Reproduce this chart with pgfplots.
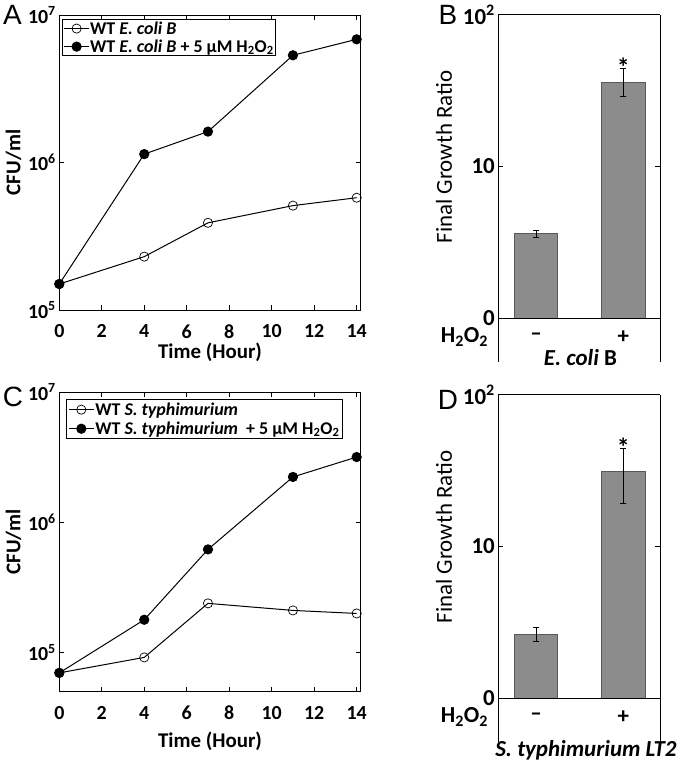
\documentclass[border=0pt]{standalone}
\usepackage{fontspec}
\setmainfont{Carlito}
\newfontfamily\letterfont{Liberation Sans}
\usepackage{pgfplots}
\pgfplotsset{compat=1.18}
\begin{document}
\begin{tikzpicture}
\useasboundingbox (0,0) rectangle (677bp,-771bp);
% Panel A
\begin{axis}[at={(59.3bp,-310bp)}, anchor=south west,
    scale only axis, width=301.4bp, height=295bp, clip=false,
    xmin=0, xmax=14.19, ymode=log, ymin=1e5, ymax=1e7,
    xtick={0,2,4,6,8,10,12,14}, xticklabels={0,2,4,6,8,\raisebox{-3bp}{10},12,14},
    ytick={1e5,1e6,1e7},
    yticklabels={10\textsuperscript{5},10\textsuperscript{6},10\textsuperscript{7}},
    yminorticks=false,
    tick align=inside, major tick length=5bp,
    axis line style={line width=0.9bp}, tick style={line width=0.9bp, black},
    xticklabel style={font=\fontsize{20}{24}\selectfont\bfseries, yshift=-11bp},
    yticklabel style={font=\fontsize{20}{24}\selectfont\bfseries},
    xlabel={Time (Hour)},
    xlabel style={font=\fontsize{21}{25}\selectfont\bfseries, at={(rel axis cs:0.5,0)}, anchor=center, yshift=-42bp},
    legend style={at={(rel axis cs:0.008,0.986)}, anchor=north west, draw=black, line width=0.8bp,
      font=\fontsize{18}{20}\selectfont\bfseries, inner sep=1.5bp, row sep=3bp, nodes={inner sep=0.5bp}},
    legend cell align=left,
    legend image code/.code={\draw[mark repeat=2,mark phase=2,#1] plot coordinates {(0bp,0bp) (12.5bp,0bp) (25bp,0bp)};}]
\addplot[black, line width=1bp, mark=o, mark size=4.6bp, mark options={fill=white, line width=0.7bp}]
  coordinates {(0,1.5e5) (4,2.3e5) (7,3.9e5) (11,5.1e5) (14,5.77e5)};
\addplot[black, line width=1bp, mark=*, mark size=4.6bp]
  coordinates {(0,1.5e5) (4,1.14e6) (7,1.62e6) (11,5.33e6) (14,6.84e6)};
\legend{WT \textit{E. coli B}, WT \textit{E. coli B} + 5 µM H\textsubscript{2}O\textsubscript{2}}
\node[font=\fontsize{21}{25}\selectfont\bfseries, rotate=90] at (rel axis cs:-0.152,0.5) {CFU/ml};
\end{axis}
% Panel C
\begin{axis}[at={(59.3bp,-691.7bp)}, anchor=south west,
    scale only axis, width=301.4bp, height=299.7bp, clip=false,
    xmin=0, xmax=14.19, ymode=log, ymin=5.02e4, ymax=1e7,
    xtick={0,2,4,6,8,10,12,14}, xticklabels={0,2,4,6,8,\raisebox{-3bp}{10},12,14},
    ytick={1e5,1e6,1e7},
    yticklabels={10\textsuperscript{5},10\textsuperscript{6},10\textsuperscript{7}},
    yminorticks=false,
    tick align=inside, major tick length=5bp,
    axis line style={line width=0.9bp}, tick style={line width=0.9bp, black},
    xticklabel style={font=\fontsize{20}{24}\selectfont\bfseries, yshift=-11bp},
    yticklabel style={font=\fontsize{20}{24}\selectfont\bfseries},
    xlabel={Time (Hour)},
    xlabel style={font=\fontsize{21}{25}\selectfont\bfseries, at={(rel axis cs:0.5,0)}, anchor=center, yshift=-50bp},
    legend style={at={(rel axis cs:0.022,0.976)}, anchor=north west, draw=black, line width=0.8bp,
      font=\fontsize{18}{20}\selectfont\bfseries, inner sep=2bp, row sep=3bp, nodes={inner sep=1bp}},
    legend cell align=left,
    legend image code/.code={\draw[mark repeat=2,mark phase=2,#1] plot coordinates {(0bp,0bp) (12.5bp,0bp) (25bp,0bp)};}]
\addplot[black, line width=1bp, mark=o, mark size=4.6bp, mark options={fill=white, line width=0.7bp}]
  coordinates {(0,7.0e4) (4,9.2e4) (7,2.39e5) (11,2.11e5) (14,2.0e5)};
\addplot[black, line width=1bp, mark=*, mark size=4.6bp]
  coordinates {(0,7.0e4) (4,1.79e5) (7,6.2e5) (11,2.23e6) (14,3.17e6)};
\legend{WT \textit{S. typhimurium}, WT \textit{S. typhimurium}\ \ + 5 µM H\textsubscript{2}O\textsubscript{2}}
\node[font=\fontsize{21}{25}\selectfont\bfseries, rotate=90] at (rel axis cs:-0.152,0.5) {CFU/ml};
\end{axis}
% Panel B
\begin{axis}[at={(498.3bp,-361.7bp)}, anchor=south west,
    scale only axis, width=161.7bp, height=347bp,
    ymode=log, ymin=0.518, ymax=100, xmin=-0.432, xmax=1.42,
    axis x line*=top, axis y line*=box, x axis line style={-}, y axis line style={-},
    axis line style={line width=0.9bp},
    xtick=\empty, ytick={1,10,100}, yticklabels={0,10,10\textsuperscript{2}},
    yminorticks=false, tick align=inside, major tick length=5bp,
    tick style={line width=0.9bp, black},
    yticklabel style={font=\fontsize{23}{27}\selectfont\bfseries},
    ybar, bar width=43.4bp, clip=false]
\addplot[fill=black!45, draw=black!65, line width=0.8bp,
    error bars/.cd, y dir=both, y explicit,
    error bar style={black, line width=1bp},
    error mark options={rotate=90, mark size=3bp, black, line width=1bp}]
  coordinates {(0,3.63) += (0,0.17) -= (0,0.21) (1,35.9) += (0,8.1) -= (0,7.0)};
\draw[line width=0.9bp] ({rel axis cs:0,0}|-{axis cs:0,1}) -- ({rel axis cs:1,0}|-{axis cs:0,1});
\node[font=\fontsize{26}{30}\selectfont\bfseries, yshift=-7bp] at (axis cs:1,50.5) {*};
\node[font=\fontsize{23}{27}\selectfont\bfseries] at (axis cs:0,0.756) {–};
\node[font=\fontsize{23}{27}\selectfont\bfseries] at (axis cs:1,0.756) {+};
\node[font=\fontsize{23}{27}\selectfont\bfseries] at (axis cs:-0.82,0.756) {H\textsubscript{2}O\textsubscript{2}};
\node[font=\fontsize{23}{27}\selectfont\bfseries] at (rel axis cs:0.508,0.011) {\textit{E. coli} B};
\node[font=\fontsize{23}{27}\selectfont, rotate=90] at (rel axis cs:-0.336,0.59) {Final Growth Ratio};
\end{axis}
% Panel D
\begin{axis}[at={(498.3bp,-741.7bp)}, anchor=south west,
    scale only axis, width=161.7bp, height=347bp,
    ymode=log, ymin=0.518, ymax=100, xmin=-0.432, xmax=1.42,
    axis x line*=top, axis y line*=box, x axis line style={-}, y axis line style={-},
    axis line style={line width=0.9bp},
    xtick=\empty, ytick={1,10,100}, yticklabels={0,10,10\textsuperscript{2}},
    yminorticks=false, tick align=inside, major tick length=5bp,
    tick style={line width=0.9bp, black},
    yticklabel style={font=\fontsize{23}{27}\selectfont\bfseries},
    ybar, bar width=43.4bp, clip=false]
\addplot[fill=black!45, draw=black!65, line width=0.8bp,
    error bars/.cd, y dir=both, y explicit,
    error bar style={black, line width=1bp},
    error mark options={rotate=90, mark size=3bp, black, line width=1bp}]
  coordinates {(0,2.62) += (0,0.30) -= (0,0.26) (1,31.4) += (0,12.9) -= (0,12.3)};
\draw[line width=0.9bp] ({rel axis cs:0,0}|-{axis cs:0,1}) -- ({rel axis cs:1,0}|-{axis cs:0,1});
\node[font=\fontsize{26}{30}\selectfont\bfseries, yshift=-7bp] at (axis cs:1,50) {*};
\node[font=\fontsize{23}{27}\selectfont\bfseries] at (axis cs:0,0.756) {–};
\node[font=\fontsize{23}{27}\selectfont\bfseries] at (axis cs:1,0.756) {+};
\node[font=\fontsize{23}{27}\selectfont\bfseries] at (axis cs:-0.82,0.756) {H\textsubscript{2}O\textsubscript{2}};
\node[font=\fontsize{23}{27}\selectfont\bfseries] at (rel axis cs:0.542,-0.024) {\textit{S. typhimurium LT2}};
\node[font=\fontsize{23}{27}\selectfont, rotate=90] at (rel axis cs:-0.336,0.59) {Final Growth Ratio};
\end{axis}
% Panel letters
\node[font=\letterfont\fontsize{28}{30}\selectfont] at (12.5bp,-15bp) {A};
\node[font=\letterfont\fontsize{28}{30}\selectfont] at (448bp,-15bp) {B};
\node[font=\letterfont\fontsize{28}{30}\selectfont] at (13bp,-397bp) {C};
\node[font=\letterfont\fontsize{28}{30}\selectfont] at (448bp,-400bp) {D};
\end{tikzpicture}
\end{document}
